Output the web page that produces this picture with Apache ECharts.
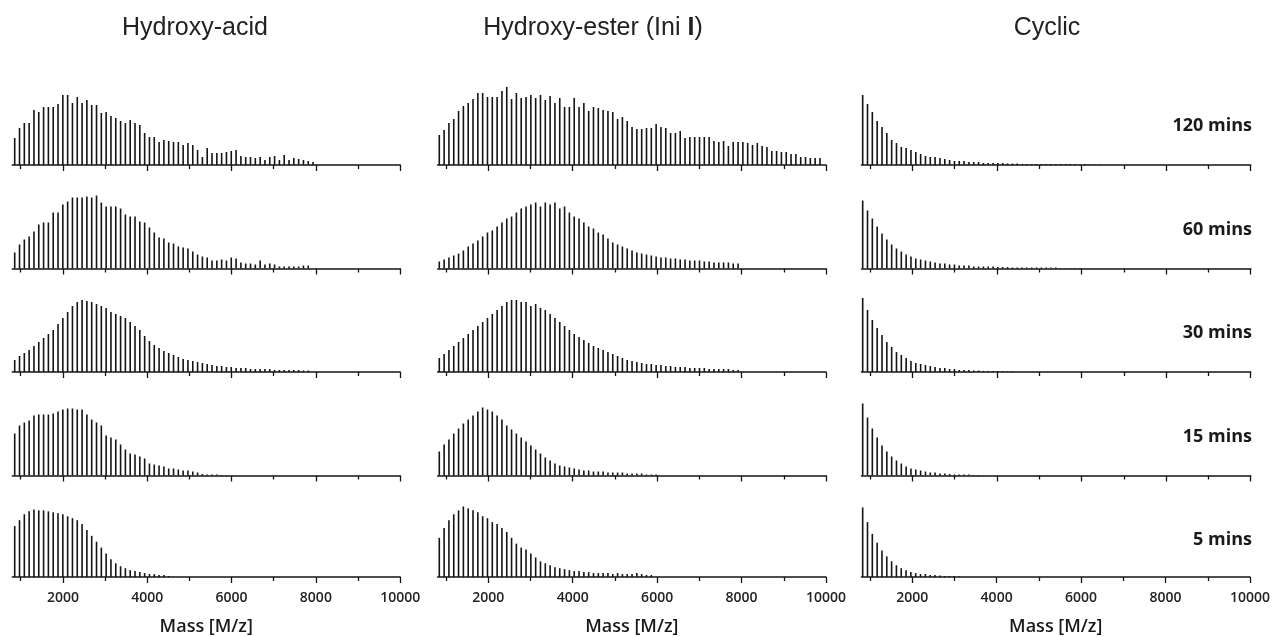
<!DOCTYPE html>
<html>
<head>
<meta charset="utf-8">
<title>Mass spectra time series</title>
<script src="https://cdn.jsdelivr.net/npm/echarts@6/dist/echarts.min.js"></script>
<style>
  html, body { margin: 0; padding: 0; background: #ffffff; }
  #chart { width: 1273px; height: 637px; }
</style>
</head>
<body>
<div id="chart"></div>
<script>
// ---- data -------------------------------------------------------------
// Column headings and row (reaction time) labels
const columnTitles = ['Hydroxy-acid', 'Hydroxy-ester (Ini I)', 'Cyclic'];
const timeLabels = ['120 mins', '60 mins', '30 mins', '15 mins', '5 mins'];

// Mass of the first peak in each column and the repeat-unit spacing [M/z]
const firstMass = [857, 840, 828];
const repeatUnit = 114.14;

// Axis ticks
const tickMasses = [1000, 2000, 3000, 4000, 5000, 6000, 7000, 8000, 9000, 10000];
const labelMasses = [2000, 4000, 6000, 8000, 10000];

// Peak intensities (a.u.), consecutive oligomers, one array per panel
const acid120 = [27,37,42,42,55,53,58,58,58,61,70,70,62,68,62,65,60,60,52,53,49,47,44,42,45,42,40,32,28,28,23,25,24,23,23,20,22,20,15,8,17,12,12,12,13,14,15,9,8,8,7,8,5,8,9,5,10,5,7,6,5,4,3];
const acid60 = [16,24,29,32,37,44,46,46,56,56,64,67,71,71,71,72,71,73,66,62,62,62,60,54,52,52,47,46,41,36,31,30,26,25,22,21,20,17,14,12,11,8,8,9,8,11,10,6,5,5,4,8,4,5,4,2,2,2,2,2,3,3];
const acid30 = [12,16,19,22,26,30,34,38,42,48,54,60,66,70,72,71,70,68,66,64,60,58,56,54,50,46,42,36,31,27,24,21,19,17,15,13,12,11,10,9,8,7,6,6,5,5,4,4,4,3,3,3,3,3,2,2,2,2,2,2,1.5,1.5];
const acid15 = [42,50,53,55,60,61,61,61,62,64,66,67,67,66,66,61,56,53,50,40,38,36,31,26,22,21,19,17,12,11,10,9,7,7,6,5,5,4,3,1.5,1,1,1,0.5];
const acid5 = [52,58,64,67,69,68,68,67,66,65,64,62,60,58,54,48,42,36,30,24,18,14,11,9,7,6,5,4,3,3,2,2,1];

const ester120 = [30,35,42,46,54,59,62,66,72,72,68,68,68,74,78,66,72,67,68,70,67,70,65,69,62,67,58,58,67,58,62,54,58,57,55,54,53,46,48,44,38,36,36,37,37,41,38,37,32,32,34,27,28,28,28,28,28,24,23,24,19,23,23,23,22,20,22,19,18,14,14,13,13,11,11,8,8,7,7,7];
const ester60 = [7,9,11,13,15,18,22,25,28,32,36,38,42,46,50,52,56,60,62,64,66,62,66,64,66,60,62,56,52,50,46,42,40,36,34,30,26,24,22,20,18,16,15,14,13,12,11,11,10,10,9,9,8,8,8,7,7,6,6,6,6,5,5];
const ester30 = [14,18,22,26,30,34,38,42,46,50,54,58,62,66,70,72,72,70,70,66,68,64,62,58,54,50,46,42,38,35,32,29,26,24,22,20,18,16,14,12,11,10,9,8,8,7,7,6,6,5,5,5,4,4,4,4,3,3,3,3,3,2,2];
const ester15 = [24,31,36,42,47,52,56,60,64,68,66,64,60,56,50,46,42,38,34,30,26,22,18,15,12,10,9,8,7,6,5,5,4,4,4,3,3,3,3,2,2,2,2,1,1,1];
const ester5 = [40,50,58,64,68,72,70,68,66,62,60,56,54,50,46,40,34,30,28,24,20,16,14,12,10,9,8,7,6,6,5,5,4,4,4,4,3,4,3,3,3,4,3,2,2];

const cyclic120 = [70,61,53,44,38,32,25,22,18,17,15,13,11,9,8,8,7,6,5,4,4,4,3,3,3,2,2,2,2,2,1.5,1.5,1.5,1,1,1,1,1,1,1,1,1,1,1,1,0.5,1,0.5,0.5,0.5];
const cyclic60 = [68,58,50,42,35,29,24,20,17,14,12,10,9,8,7,6,5,5,4,4,3,3,3,2,2,2,2,2,1.5,1.5,1.5,1,1,1,1,1,1,1,1,1,1,0.5,0.5,0.5,0.5,0.5];
const cyclic30 = [74,62,52,44,37,30,25,20,17,14,11,9,8,7,6,5,4,4,3,3,2,2,2,1.5,1.5,1,1,1,1,1,0.5,0.5];
const cyclic15 = [72,58,47,38,30,24,19,15,12,9,7,6,5,4,3,3,2,2,1.5,1,1,1,1,0.5,0.5];
const cyclic5 = [71,56,44,35,27,21,16,12,9,7,5,4,3,3,2,2,1.5,1,1,1,0.5];

// panels[column][row]
const panels = [
  [acid120, acid60, acid30, acid15, acid5],
  [ester120, ester60, ester30, ester15, ester5],
  [cyclic120, cyclic60, cyclic30, cyclic15, cyclic5]
];

// ---- layout -----------------------------------------------------------
const colLeft = [12.3, 437.6, 861.5];
const colWidth = [387.9, 388.4, 389.2];
const rowBaseline = [165, 268.5, 372, 475.5, 579];
const panelHeight = 100;
const yMax = 100;
const ink = '#141414';
const labelFont = 'Open Sans';

const grids = [], xAxes = [], yAxes = [], series = [];

panels.forEach((col, c) => {
  col.forEach((values, r) => {
    const gi = grids.length;
    const isBottom = r === rowBaseline.length - 1;
    grids.push({
      left: colLeft[c],
      top: rowBaseline[r] - panelHeight,
      width: colWidth[c],
      height: panelHeight
    });
    // main axis: line, even-thousand ticks, labels on the bottom row
    xAxes.push({
      gridIndex: gi,
      type: 'value',
      min: 800,
      max: 10000,
      splitLine: { show: false },
      axisLine: { show: true, lineStyle: { color: ink, width: 1.5 } },
      axisTick: {
        show: true,
        customValues: tickMasses.filter(v => v % 2000 === 0),
        length: 6,
        lineStyle: { color: ink, width: 1.3 }
      },
      axisLabel: {
        show: isBottom,
        customValues: labelMasses,
        formatter: v => String(v),
        margin: 14,
        fontFamily: labelFont,
        fontSize: 14,
        fontWeight: 600,
        color: '#222'
      },
      name: isBottom ? 'Mass [M/z]' : '',
      nameLocation: 'middle',
      nameGap: 41,
      nameTextStyle: {
        fontFamily: labelFont,
        fontSize: 18,
        fontWeight: 600,
        color: '#1a1a1a'
      }
    });
    // secondary axis: shorter ticks on odd thousands
    xAxes.push({
      gridIndex: gi,
      type: 'value',
      position: 'bottom',
      min: 800,
      max: 10000,
      splitLine: { show: false },
      axisLine: { show: false },
      axisTick: {
        show: true,
        customValues: tickMasses.filter(v => v % 2000 !== 0),
        length: 4,
        lineStyle: { color: ink, width: 1.3 }
      },
      axisLabel: { show: false }
    });
    yAxes.push({
      gridIndex: gi,
      type: 'value',
      min: 0,
      max: yMax,
      show: false
    });
    series.push({
      type: 'bar',
      xAxisIndex: xAxes.length - 2,
      yAxisIndex: gi,
      barWidth: 1.6,
      silent: true,
      animation: false,
      itemStyle: { color: ink },
      data: values.map((v, i) => [firstMass[c] + i * repeatUnit, v])
    });
  });
});

// ---- text -------------------------------------------------------------
const titleCenters = [190, 588, 1042];
const titleStyle = { fontFamily: 'Liberation Sans', fontSize: 25, fontWeight: 'normal', color: '#222' };
const titles = columnTitles.map((t, c) => {
  const rich = {
    n: Object.assign({}, titleStyle),
    b: Object.assign({}, titleStyle, { fontWeight: 'bold' })
  };
  const text = t.endsWith('(Ini I)')
    ? '{n|' + t.slice(0, -2) + '}{b|I}{n|)}'
    : '{n|' + t + '}';
  return {
    text: text,
    left: titleCenters[c],
    top: 11,
    textAlign: 'center',
    textStyle: Object.assign({ rich: rich }, titleStyle)
  };
});

const timeTexts = timeLabels.map((t, r) => ({
  type: 'text',
  right: 1273 - 1252,
  top: rowBaseline[r] - 48,
  style: {
    text: t,
    fontFamily: labelFont,
    fontSize: 18,
    fontWeight: 'bold',
    fill: '#1a1a1a',
    textAlign: 'right'
  }
}));

const chart = echarts.init(document.getElementById('chart'), null, { renderer: 'canvas' });
chart.setOption({
  animation: false,
  backgroundColor: '#ffffff',
  title: titles,
  grid: grids,
  xAxis: xAxes,
  yAxis: yAxes,
  series: series,
  graphic: timeTexts
});
</script>
</body>
</html>
